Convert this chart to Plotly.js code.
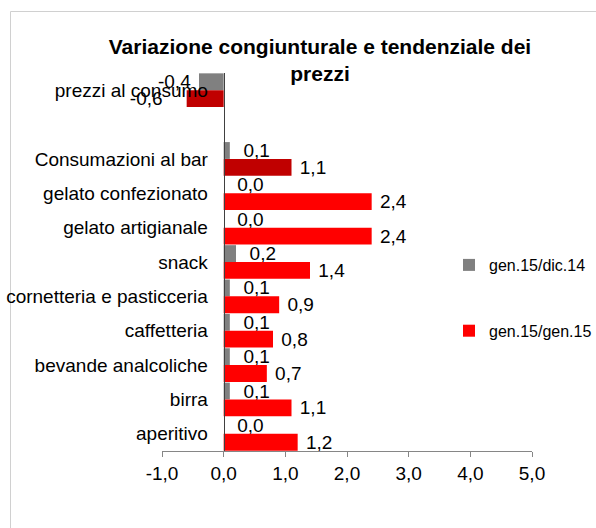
<!DOCTYPE html>
<html><head><meta charset="utf-8">
<script src="https://cdn.plot.ly/plotly-3.0.1.min.js"></script>
<style>html,body{margin:0;padding:0;background:#fff}#chart{width:596px;height:528px}</style>
</head><body><div id="chart"></div>
<script>
const categories = ["prezzi al consumo", " ", "Consumazioni al bar", "gelato confezionato", "gelato artigianale", "snack", "cornetteria e pasticceria", "caffetteria", "bevande analcoliche", "birra", "aperitivo"];
const seriesNames = ["gen.15/dic.14", "gen.15/gen.15"];
const congiunturale = [-0.4, null, 0.1, 0.0, 0.0, 0.2, 0.1, 0.1, 0.1, 0.1, 0.0];
const tendenziale = [-0.6, null, 1.1, 2.4, 2.4, 1.4, 0.9, 0.8, 0.7, 1.1, 1.2];
const highlighted = [true, false, true, false, false, false, false, false, false, false, false];
const xTicks = [-1, 0, 1, 2, 3, 4, 5];
const xTickText = ["-1,0", "0,0", "1,0", "2,0", "3,0", "4,0", "5,0"];
const grayColor = "#808080";
const redColor = "#FF0000";
const darkRedColor = "#C00000";

const FONT = "Liberation Sans, Arial, sans-serif";
const L = 162, R = 532, T = 73, B = 451, W = 596, H = 528;
const px2x = p => (p - L) / (R - L);
const py2y = p => (B - p) / (B - T);
const NB = "\u00a0";

const labelFont = {family: FONT, size: 19, color: "#000"};
const common = {
  type: "bar", orientation: "h", y: categories,
  textposition: "outside", constraintext: "none",
  textfont: labelFont, cliponaxis: false, hoverinfo: "skip"
};
const grayTpl = congiunturale.map(v => v < 0 ? "%{x:.1f}" + NB : NB + NB + "%{x:.1f}");
const redTpl = tendenziale.map(v => v < 0 ? "%{x:.1f}" + NB.repeat(4) : NB + "%{x:.1f}");

const traces = [
  Object.assign({}, common, {
    name: seriesNames[0], legendgroup: "a", offsetgroup: "a",
    x: congiunturale, marker: {color: grayColor}, texttemplate: grayTpl
  }),
  Object.assign({}, common, {
    name: seriesNames[1], legendgroup: "b", offsetgroup: "b",
    x: tendenziale.map((v, i) => highlighted[i] ? null : v), marker: {color: redColor}, texttemplate: redTpl
  }),
  Object.assign({}, common, {
    name: seriesNames[1], legendgroup: "b", offsetgroup: "b", showlegend: false,
    x: tendenziale.map((v, i) => highlighted[i] ? v : null), marker: {color: darkRedColor}, texttemplate: redTpl
  })
];

const layout = {
  width: W, height: H,
  margin: {l: L, r: W - R, t: T, b: H - B, autoexpand: false},
  paper_bgcolor: "#fff", plot_bgcolor: "rgba(0,0,0,0)",
  separators: ",.",
  font: {family: FONT, size: 19, color: "#000"},
  barmode: "group", bargap: 0.02, bargroupgap: 0,
  title: {
    text: "<b>Variazione congiunturale e tendenziale dei<br>prezzi</b>",
    font: {family: FONT, size: 21, color: "#000"},
    xref: "paper", x: px2x(320), xanchor: "center",
    yref: "container", y: 1 - 54 / H, yanchor: "top"
  },
  xaxis: {
    range: [-1, 5], tickvals: xTicks, ticktext: xTickText,
    showline: true, linecolor: "#868686", linewidth: 1,
    ticks: "outside", ticklen: 5, tickcolor: "#868686",
    showgrid: false, zeroline: false,
    tickfont: {family: FONT, size: 19, color: "#000"}
  },
  yaxis: {
    type: "category", autorange: "reversed",
    anchor: "free", position: 1 / 6,
    showline: true, linecolor: "#404040", linewidth: 1,
    ticks: "", showgrid: false, zeroline: false,
    ticklabelstandoff: 12,
    tickfont: {family: FONT, size: 19, color: "#000"}
  },
  showlegend: true,
  legend: {
    xref: "container", yref: "container",
    x: 449 / W, xanchor: "left", y: 1 - 248 / H, yanchor: "top",
    traceorder: "grouped", tracegroupgap: 42,
    font: {family: FONT, size: 16, color: "#000"},
    bgcolor: "rgba(0,0,0,0)", borderwidth: 0
  },
  shapes: [
    {type: "line", xref: "paper", yref: "paper", x0: px2x(10.5), x1: px2x(620), y0: py2y(11.5), y1: py2y(11.5), line: {color: "#d0d0d0", width: 1}, layer: "below"},
    {type: "line", xref: "paper", yref: "paper", x0: px2x(10.5), x1: px2x(10.5), y0: py2y(11.5), y1: py2y(560), line: {color: "#d0d0d0", width: 1}, layer: "below"}
  ]
};

Plotly.newPlot("chart", traces, layout, {staticPlot: true, displayModeBar: false});
</script>
</body></html>
